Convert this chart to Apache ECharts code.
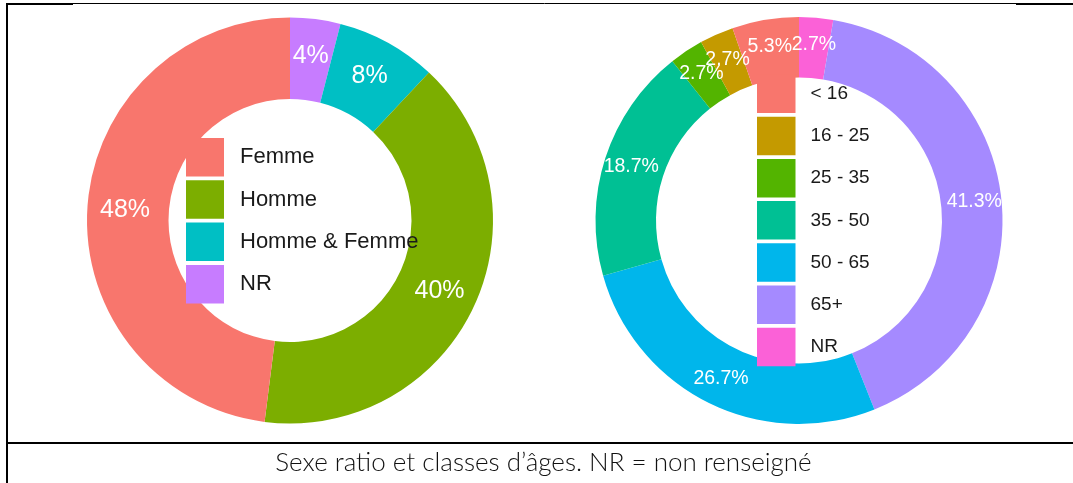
<!DOCTYPE html>
<html>
<head>
<meta charset="utf-8">
<script src="https://cdn.jsdelivr.net/npm/echarts@6/dist/echarts.min.js"></script>
<style>
  html, body { margin: 0; padding: 0; background: #fff; }
  #chart { width: 1073px; height: 483px; }
</style>
</head>
<body>
<div id="chart"></div>
<script>
// sexe ratio (clockwise from 12 o'clock, like the ggplot original)
const sexeNames = ['NR', 'Homme & Femme', 'Homme', 'Femme']
const sexeValues = [4, 8, 40, 48]
const sexeColors = ['#C77CFF', '#00BFC4', '#7CAE00', '#F8766D']
const sexeLegend = ['Femme', 'Homme', 'Homme & Femme', 'NR']

// classes d'âges
const ageNames = ['NR', '65+', '50 - 65', '35 - 50', '25 - 35', '16 - 25', '< 16']
const ageValues = [2.7, 41.3, 26.7, 18.7, 2.7, 2.7, 5.3]
const ageColors = ['#FB61D7', '#A58AFF', '#00B6EB', '#00C094', '#53B400', '#C49A00', '#F8766D']
const ageLegend = ['< 16', '16 - 25', '25 - 35', '35 - 50', '50 - 65', '65+', 'NR']

const caption = 'Sexe ratio et classes d\u2019âges. NR = non renseigné'

const font = '"Liberation Sans", Arial, sans-serif'

const legendData = (names, allNames, colors) =>
  names.map(n => ({ name: n, itemStyle: { color: colors[allNames.indexOf(n)] } }))

const chart = echarts.init(document.getElementById('chart'))

chart.setOption({
  animation: false,
  backgroundColor: '#fff',
  legend: [
    {
      orient: 'vertical',
      left: 186,
      top: 138,
      padding: 0,
      itemWidth: 38,
      itemHeight: 38.5,
      itemGap: 3.8,
      icon: 'rect',
      selectedMode: false,
      data: legendData(sexeLegend, sexeNames, sexeColors),
      textStyle: { fontFamily: font, fontSize: 22, color: '#1a1a1a', padding: [0, 0, 0, 11] }
    },
    {
      orient: 'vertical',
      left: 757,
      top: 74.5,
      padding: 0,
      itemWidth: 38.5,
      itemHeight: 38.5,
      itemGap: 3.7,
      icon: 'rect',
      selectedMode: false,
      data: legendData(ageLegend, ageNames, ageColors),
      textStyle: { fontFamily: font, fontSize: 19, color: '#1a1a1a', padding: [0, 0, 0, 10] }
    }
  ],
  series: [
    {
      type: 'pie',
      center: [290, 220.5],
      radius: [121.5, 203],
      startAngle: 90,
      clockwise: true,
      silent: true,
      avoidLabelOverlap: false,
      labelLayout: { hideOverlap: false },
      label: {
        position: 'inside',
        color: '#fff',
        fontFamily: font,
        fontSize: 25,
        formatter: p => p.value + '%'
      },
      labelLine: { show: false },
      data: sexeNames.map((n, i) => ({ name: n, value: sexeValues[i], itemStyle: { color: sexeColors[i] } }))
    },
    {
      type: 'pie',
      center: [799, 220.5],
      radius: [143, 203.5],
      startAngle: 90,
      clockwise: true,
      silent: true,
      avoidLabelOverlap: false,
      labelLayout: { hideOverlap: false },
      label: {
        position: 'inside',
        color: '#fff',
        fontFamily: font,
        fontSize: 19.5,
        formatter: p => p.value + '%'
      },
      labelLine: { show: false },
      data: ageNames.map((n, i) => ({ name: n, value: ageValues[i], itemStyle: { color: ageColors[i] } }))
    }
  ],
  graphic: [
    // table borders
    { type: 'line', shape: { x1: 7, y1: 3, x2: 7, y2: 483 }, style: { stroke: '#000', lineWidth: 2 } },
    { type: 'line', shape: { x1: 6, y1: 4, x2: 73, y2: 4 }, style: { stroke: '#000', lineWidth: 2 } },
    { type: 'line', shape: { x1: 73, y1: 3.5, x2: 1016, y2: 3.5 }, style: { stroke: '#000', lineWidth: 1 } },
    { type: 'line', shape: { x1: 1016, y1: 4, x2: 1073, y2: 4 }, style: { stroke: '#000', lineWidth: 2 } },
    { type: 'line', shape: { x1: 6, y1: 443, x2: 1073, y2: 443 }, style: { stroke: '#000', lineWidth: 2 } },
    {
      type: 'text',
      x: 543.5,
      y: 463,
      style: {
        text: caption,
        font: '300 26px Lato, sans-serif',
        fill: '#111',
        textAlign: 'center',
        textVerticalAlign: 'middle'
      }
    }
  ]
})
</script>
</body>
</html>
